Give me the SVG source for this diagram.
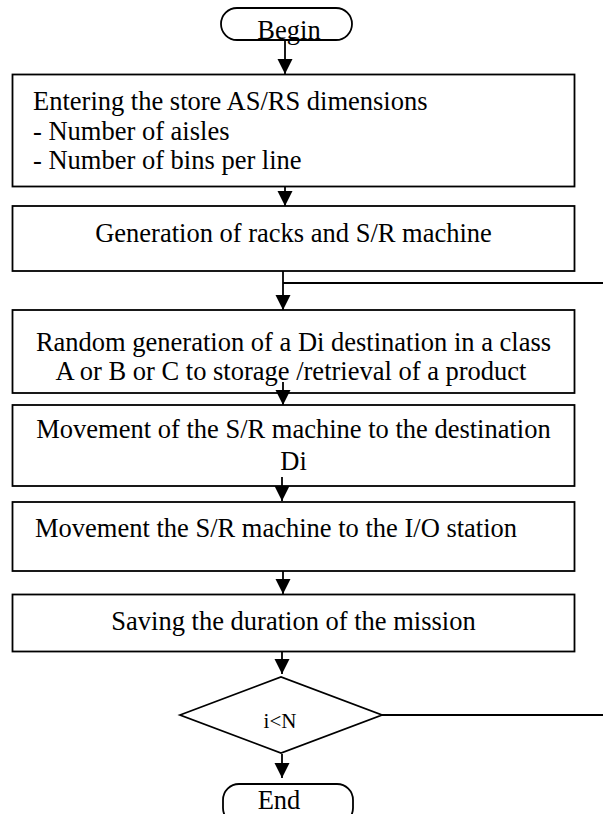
<svg xmlns="http://www.w3.org/2000/svg" width="603" height="814" viewBox="0 0 603 814">
<style>
.box{fill:#fff;stroke:#000;stroke-width:1.8}
.t{font-family:"Liberation Serif","Times New Roman",serif;font-size:26.5px;fill:#000}
.c{text-anchor:middle}
.ln{fill:none;stroke:#000;stroke-width:1.8}
</style>
<defs>
<marker id="ah" markerUnits="userSpaceOnUse" markerWidth="16" markerHeight="16" refX="15" refY="7.5" orient="auto">
<path d="M0,0 L15,7.5 L0,15 Z" fill="#000"/>
</marker>
</defs>
<g id="begin">
<rect class="box" x="221" y="8" width="131" height="32" rx="16"/>
<text class="t c" x="289" y="38.5">Begin</text>
</g>
<g id="enter">
<rect class="box" x="12.5" y="74.5" width="562" height="112"/>
<text class="t" x="33" y="110">Entering the store AS/RS dimensions</text>
<text class="t" x="33" y="140">- Number of aisles</text>
<text class="t" x="33" y="169">- Number of bins per line</text>
</g>
<g id="generation">
<rect class="box" x="12.5" y="206" width="562" height="65"/>
<text class="t c" x="293.5" y="242">Generation of racks and S/R machine</text>
</g>
<g id="random">
<rect class="box" x="12.5" y="310" width="562" height="83"/>
<text class="t c" x="293.5" y="351">Random generation of a Di destination in a class</text>
<text class="t c" x="291" y="380">A or B or C to storage /retrieval of a product</text>
</g>
<g id="move1">
<rect class="box" x="12.5" y="405" width="562" height="81"/>
<text class="t c" x="293.5" y="438">Movement of the S/R machine to the destination</text>
<text class="t c" x="293.5" y="470">Di</text>
</g>
<g id="move2">
<rect class="box" x="12.5" y="502" width="562" height="69"/>
<text class="t" x="35" y="537">Movement the S/R machine to the I/O station</text>
</g>
<g id="saving">
<rect class="box" x="12.5" y="594.5" width="562" height="57"/>
<text class="t c" x="293.5" y="630">Saving the duration of the mission</text>
</g>
<g id="decision">
<polygon class="box" points="180,715 281,677 382,715 281,753"/>
<text class="t c" x="280" y="728" style="font-size:21px">i&lt;N</text>
</g>
<g id="end">
<rect class="box" x="223" y="784" width="130" height="40" rx="16"/>
<text class="t c" x="279" y="809">End</text>
</g>
<g id="connectors">
<line class="ln" x1="285" y1="40" x2="285" y2="74" marker-end="url(#ah)"/>
<line class="ln" x1="285" y1="186.5" x2="285" y2="206" marker-end="url(#ah)"/>
<line class="ln" x1="283" y1="271" x2="283" y2="310" marker-end="url(#ah)"/>
<line class="ln" x1="283" y1="283" x2="603" y2="283"/>
<line class="ln" x1="283" y1="382" x2="283" y2="405" marker-end="url(#ah)"/>
<line class="ln" x1="282" y1="477" x2="282" y2="501" marker-end="url(#ah)"/>
<line class="ln" x1="283" y1="571" x2="283" y2="594" marker-end="url(#ah)"/>
<line class="ln" x1="282" y1="652" x2="282" y2="674" marker-end="url(#ah)"/>
<line class="ln" x1="382" y1="715" x2="603" y2="715"/>
<line class="ln" x1="282" y1="754" x2="282" y2="778" marker-end="url(#ah)"/>
</g>
</svg>
